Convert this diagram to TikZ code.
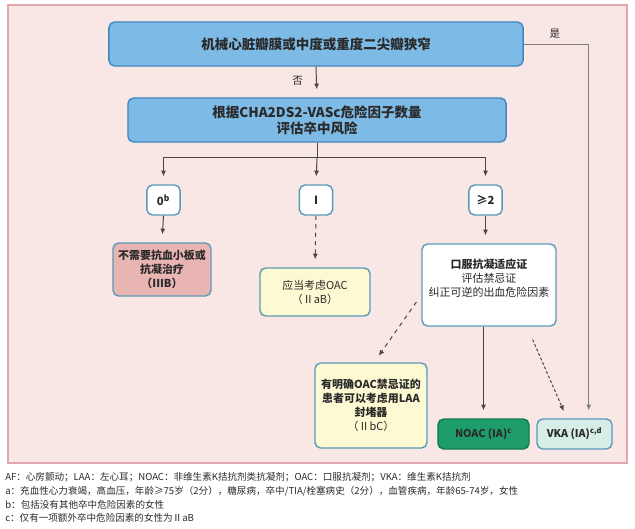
\documentclass[tikz,border=0pt]{standalone}
\usepackage{fontspec}
\setmainfont{Noto Sans CJK SC}
\usetikzlibrary{arrows.meta,calc}

\definecolor{panelbg}{HTML}{F8E7E4}
\definecolor{panelline}{HTML}{E3A6AC}
\definecolor{bluefill}{HTML}{7EBAE6}
\definecolor{blueline}{HTML}{3F86C2}
\definecolor{boxline}{HTML}{5A9AB8}
\definecolor{pinkfill}{HTML}{E9B5B2}
\definecolor{yellowfill}{HTML}{FDF9D2}
\definecolor{greenfill}{HTML}{1E9C69}
\definecolor{greenline}{HTML}{127A52}
\definecolor{mintfill}{HTML}{D7EEE8}
\definecolor{arrowgray}{HTML}{4A4646}
\definecolor{textdark}{HTML}{2A2A2A}

\begin{document}
\begin{tikzpicture}[x=0.025cm,y=-0.025cm,
    box/.style={draw=boxline,line width=1pt,rounded corners=4pt,align=center,
        text=textdark,inner sep=2pt},
    head/.style={box,draw=blueline,fill=bluefill,minimum height=1.1cm,
        font=\fontsize{9.6}{11.5}\selectfont\bfseries},
    score/.style={box,fill=white,minimum width=0.83cm,minimum height=0.75cm,
        font=\fontsize{8}{9}\selectfont\bfseries},
    advice/.style={box,font=\fontsize{7.8}{10}\selectfont},
    drug/.style={box,minimum height=0.75cm,font=\fontsize{7.6}{9}\selectfont\bfseries},
    conn/.style={draw=arrowgray,line width=0.7pt,-{Latex[length=4pt,width=3.6pt]},
        shorten >=0.2cm},
    note/.style={anchor=west,inner sep=0pt,text=textdark,
        font=\fontsize{6.8}{8}\selectfont}]

    % background panel
    \useasboundingbox (0,0) rectangle (635,528);
    \draw[fill=panelbg,draw=panelline,line width=0.8pt] (8,5) rectangle (627,463);

    \node[head,minimum width=10.35cm] (top) at (316,44) {机械心脏瓣膜或中度或重度二尖瓣狭窄};
    \node[head,minimum width=9.45cm] (risk) at (317,120) {根据CHA2DS2-VASc危险因子数量\\评估卒中风险};

    \node[score] (zero) at (163.5,200) {0\textsuperscript{b}};
    \node[score] (one)  at (316,200)   {I};
    \node[score] (two)  at (485.5,200) {≥2};

    \node[advice,fill=pinkfill,minimum width=2.45cm,minimum height=1.325cm,font=\fontsize{7.8}{10}\selectfont\bfseries] (noneed) at (162,269.5)
        {不需要抗血小板或\\抗凝治疗\\（IIIB）};
    \node[advice,fill=yellowfill,minimum width=2.75cm,minimum height=1.2cm] (consider) at (315,292)
        {应当考虑OAC\\（ⅡaB）};
    \node[advice,fill=white,minimum width=3.35cm,minimum height=2.05cm] (oac) at (489,285)
        {\textbf{口服抗凝适应证}\\评估禁忌证\\纠正可逆的出血危险因素\\\mbox{}};
    \node[advice,fill=yellowfill,minimum width=2.8cm,minimum height=2.125cm] (laa) at (371,405.5)
        {\textbf{有明确OAC禁忌证的}\\\textbf{患者可以考虑用LAA}\\\textbf{封堵器}\\（ⅡbC）};
    \node[drug,draw=greenline,fill=greenfill,minimum width=2.275cm] (noac) at (483.5,434)
        {NOAC (IA)\textsuperscript{c}};
    \node[drug,fill=mintfill,minimum width=1.875cm] (vka) at (574.5,434)
        {VKA (IA)\textsuperscript{c,d}};

    % yes / no
    \draw[conn] (top.south) -- node[left=6pt,pos=0.45,font=\fontsize{7.5}{9}\selectfont,text=textdark] {否} (risk.north);
    \draw[conn,draw=gray] (top.east) -- ++(65,0) coordinate (yes) -- (yes |- vka.north);
    \node[font=\fontsize{7.5}{9}\selectfont,text=textdark] (yeslabel) at (555,34) {是};

    % scores
    \draw[draw=arrowgray,line width=0.7pt] (risk.south) -- ++(0,15) coordinate (split);
    \draw[conn] (split) -| (zero.north);
    \draw[conn] (split) -- (one.north);
    \draw[conn] (split) -| (two.north);

    \draw[conn] (zero.south) -- (noneed.north);
    \draw[conn,dashed] (one.south) -- (consider.north);
    \draw[conn] (two.south) -- (two.south |- oac.north);

    \draw[conn] (oac.south -| noac.north) -- (noac.north);
    \draw[conn,dashed,shorten <=6pt] ([yshift=-0.25cm]oac.west) -- ([xshift=0.08cm]laa.north);
    \draw[conn,dash pattern=on 2pt off 1.5pt,shorten <=10pt] ([xshift=0.95cm]oac.south) -- ([xshift=-0.19cm]vka.north);

    % notes
    \node[note] (n0) at (5,477) {AF：心房颤动；LAA：左心耳；NOAC：非维生素K拮抗剂类抗凝剂；OAC：口服抗凝剂；VKA：维生素K拮抗剂};
    \node[note] (n1) at (5,491) {a：充血性心力衰竭，高血压，年龄≥75岁（2分），糖尿病，卒中/TIA/栓塞病史（2分），血管疾病，年龄65-74岁，女性};
    \node[note] (n2) at (5,504.5) {b：包括没有其他卒中危险因素的女性};
    \node[note] (n3) at (5,518) {c：仅有一项额外卒中危险因素的女性为ⅡaB};
\end{tikzpicture}
\end{document}
